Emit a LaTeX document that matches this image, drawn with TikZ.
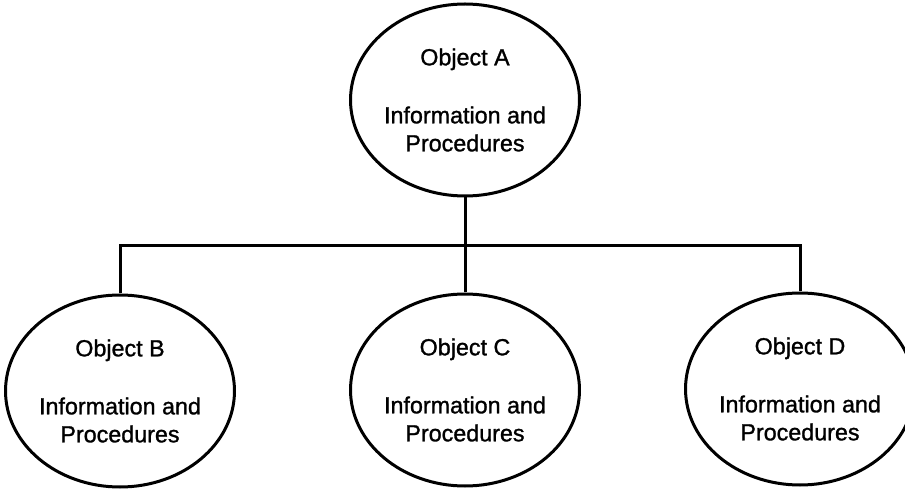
\documentclass[tikz,border=0pt]{standalone}
\usepackage{fontspec}
\setmainfont{Liberation Sans}
\newfontfamily\objfont[FakeBold=1.2]{Liberation Sans}
\usetikzlibrary{shapes.geometric}
\tikzset{
    obj/.style={ellipse,draw=black,line width=3pt, inner sep=0, align=center,
        font=\objfont\fontsize{23.3}{28}\selectfont},
    link/.style={line width=3pt}
}

\begin{document}
\begin{tikzpicture}[x=1pt,y=1pt]
    \useasboundingbox (0,0) rectangle (905,490);
    \node[obj, minimum width=192pt, minimum height=192pt] (objA) at (465,390)
        {Object A\\[30pt]Information and\\Procedures};
    \node[obj, minimum width=226pt, minimum height=192pt] (objB) at (120,99)
        {Object B\\[30pt]Information and\\Procedures};
    \node[obj, minimum width=224pt, minimum height=192pt] (objC) at (465,100)
        {Object C\\[30pt]Information and\\Procedures};
    \node[obj, minimum width=206pt, minimum height=192pt] (objD) at (800,101)
        {Object D\\[30pt]Information and\\Procedures};
    \coordinate (bus) at (465,244);
    \draw[link] (objA.south) -- (bus);
    \draw[link] (objB.north) |- (bus) -| (objD.north);
    \draw[link] (bus) -- (objC.north);
\end{tikzpicture}
\end{document}
